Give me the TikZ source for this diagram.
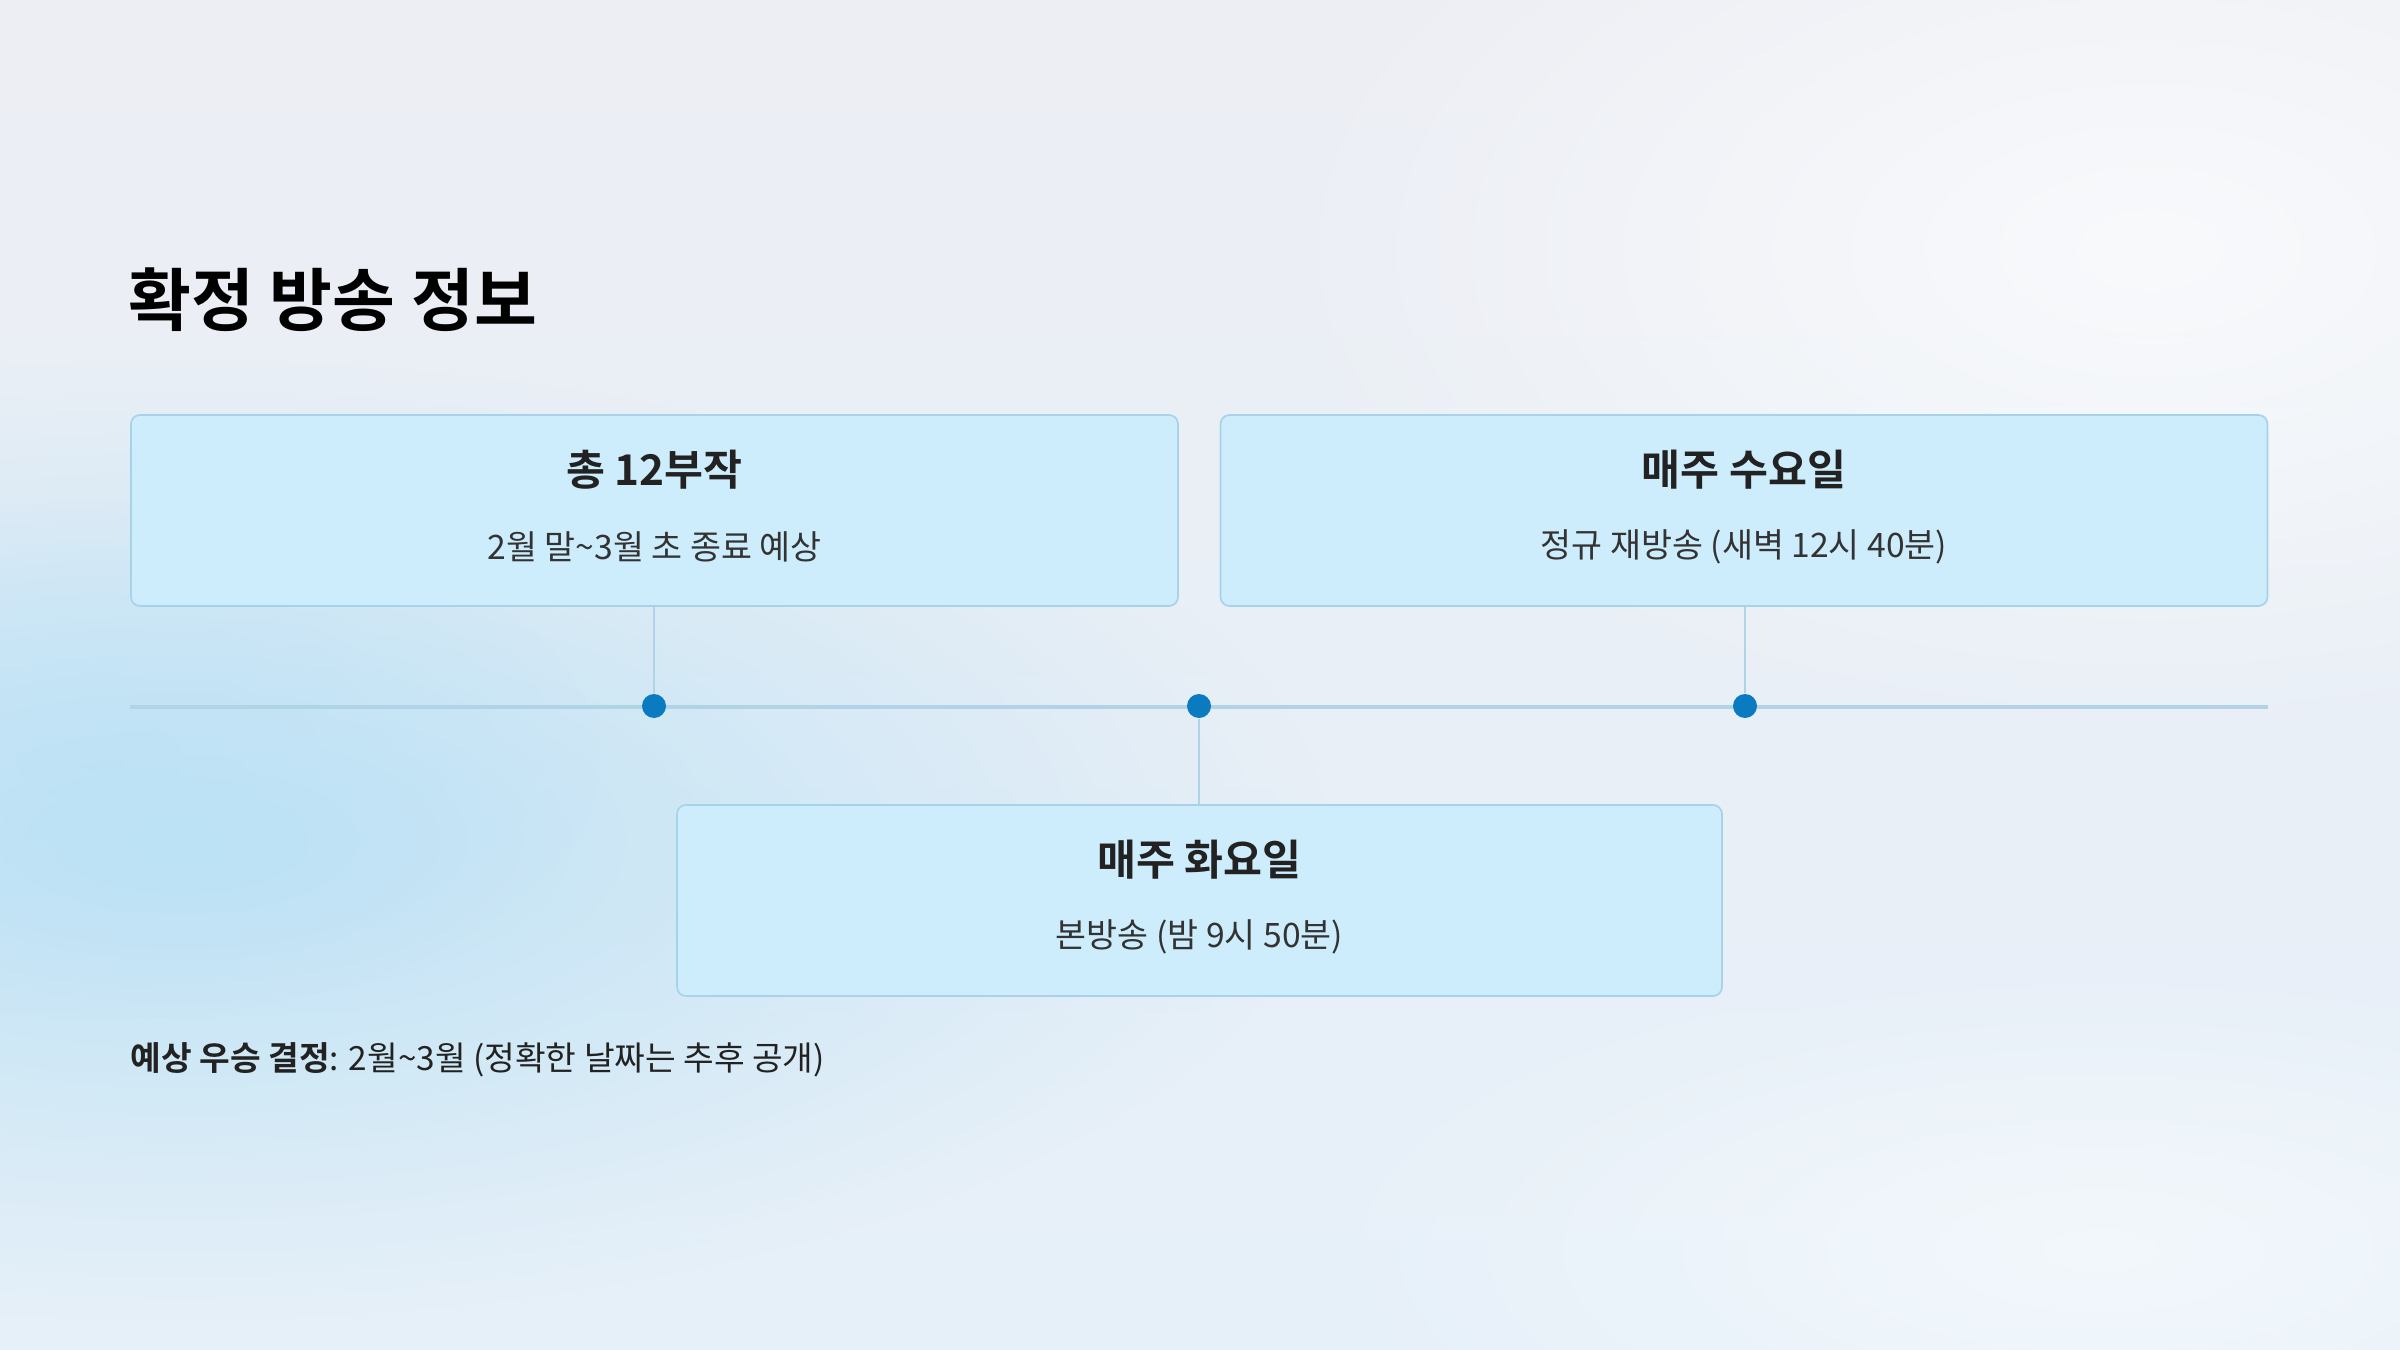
\documentclass[tikz,border=0pt]{standalone}
\usepackage{fontspec}
\setmainfont{Noto Sans CJK KR}[BoldFont={Noto Sans CJK KR Bold}]
\usetikzlibrary{fadings}
\tikzfading[name=softblob, inner color=transparent!0, outer color=transparent!100]
\definecolor{bgtop}{HTML}{ECEEF4}
\definecolor{bgbot}{HTML}{E6F0F9}
\definecolor{blob}{HTML}{BCE2F5}
\definecolor{boxfill}{HTML}{CDEDFD}
\definecolor{boxline}{HTML}{A8D2E8}
\definecolor{linec}{HTML}{B0D3E5}
\definecolor{dotc}{HTML}{0A7BC0}
\definecolor{ink}{HTML}{222222}
\definecolor{subink}{HTML}{333333}
\tikzset{
  infobox/.style={draw=boxline, line width=0.5pt, fill=boxfill, rounded corners=2.7pt,
    minimum width=314.1pt, minimum height=57.3pt, inner sep=0pt},
  boxtitle/.style={font=\fontsize{12.7pt}{15pt}\selectfont\bfseries, text=ink, inner sep=0pt},
  boxsub/.style={font=\fontsize{10.1pt}{12pt}\selectfont, text=subink, inner sep=0pt},
  tdot/.style={circle, fill=dotc, minimum size=7.2pt, inner sep=0pt},
  tline/.style={draw=linec, line width=1.1pt},
  vline/.style={draw=linec, line width=0.6pt}
}
\begin{document}
\begin{tikzpicture}[x=0.3pt, y=-0.3pt]
\useasboundingbox (0,0) rectangle (2400,1350);
% background
\shade[top color=bgtop, bottom color=bgbot] (0,0) rectangle (2400,1350);
\fill[white, path fading=softblob, opacity=0.7] (2150,250) ellipse [x radius=900, y radius=500];
\fill[blob, path fading=softblob] (180,840) ellipse [x radius=1150, y radius=480];
\fill[blob, path fading=softblob, opacity=0.6] (100,760) ellipse [x radius=500, y radius=260];
\fill[white, path fading=softblob, opacity=0.5] (2100,1250) ellipse [x radius=800, y radius=300];
% title
\node[anchor=west, inner sep=0pt, font=\fontsize{20.5pt}{24pt}\selectfont\bfseries, text=black] (title) at (128,300) {확정 방송 정보};
% timeline
\coordinate (tls) at (130,707);
\coordinate (tle) at (2268,707);
\draw[tline] (tls) -- (tle);
% boxes
\node[infobox] (b1) at (654.5,510.5) {};
\node[infobox] (b2) at (1744,510.5) {};
\node[infobox, minimum width=313.5pt] (b3) at (1199.5,900.5) {};
\node[boxtitle] (b1t) at (654.5,470) {총 12부작};
\node[boxsub] (b1s) at (654.5,547) {2월 말\textasciitilde 3월 초 종료 예상};
\node[boxtitle] (b2t) at (1744,470) {매주 수요일};
\node[boxsub] (b2s) at (1744,547) {정규 재방송 (새벽 12시 40분)};
\node[boxtitle] (b3t) at (1199.5,860) {매주 화요일};
\node[boxsub] (b3s) at (1199.5,937) {본방송 (밤 9시 50분)};
% dots
\node[tdot] (d1) at (654,706) {};
\node[tdot] (d2) at (1199,706) {};
\node[tdot] (d3) at (1745,706) {};
% connectors
\draw[vline] (b1.south -| d1) -- (d1);
\draw[vline] (b2.south -| d3) -- (d3);
\draw[vline] (d2) -- (b3.north -| d2);
% footer
\node[anchor=west, inner sep=0pt, font=\fontsize{10pt}{12pt}\selectfont, text=ink] (foot) at (130,1060) {\textbf{예상 우승 결정}: 2월\textasciitilde 3월 (정확한 날짜는 추후 공개)};
\end{tikzpicture}
\end{document}
